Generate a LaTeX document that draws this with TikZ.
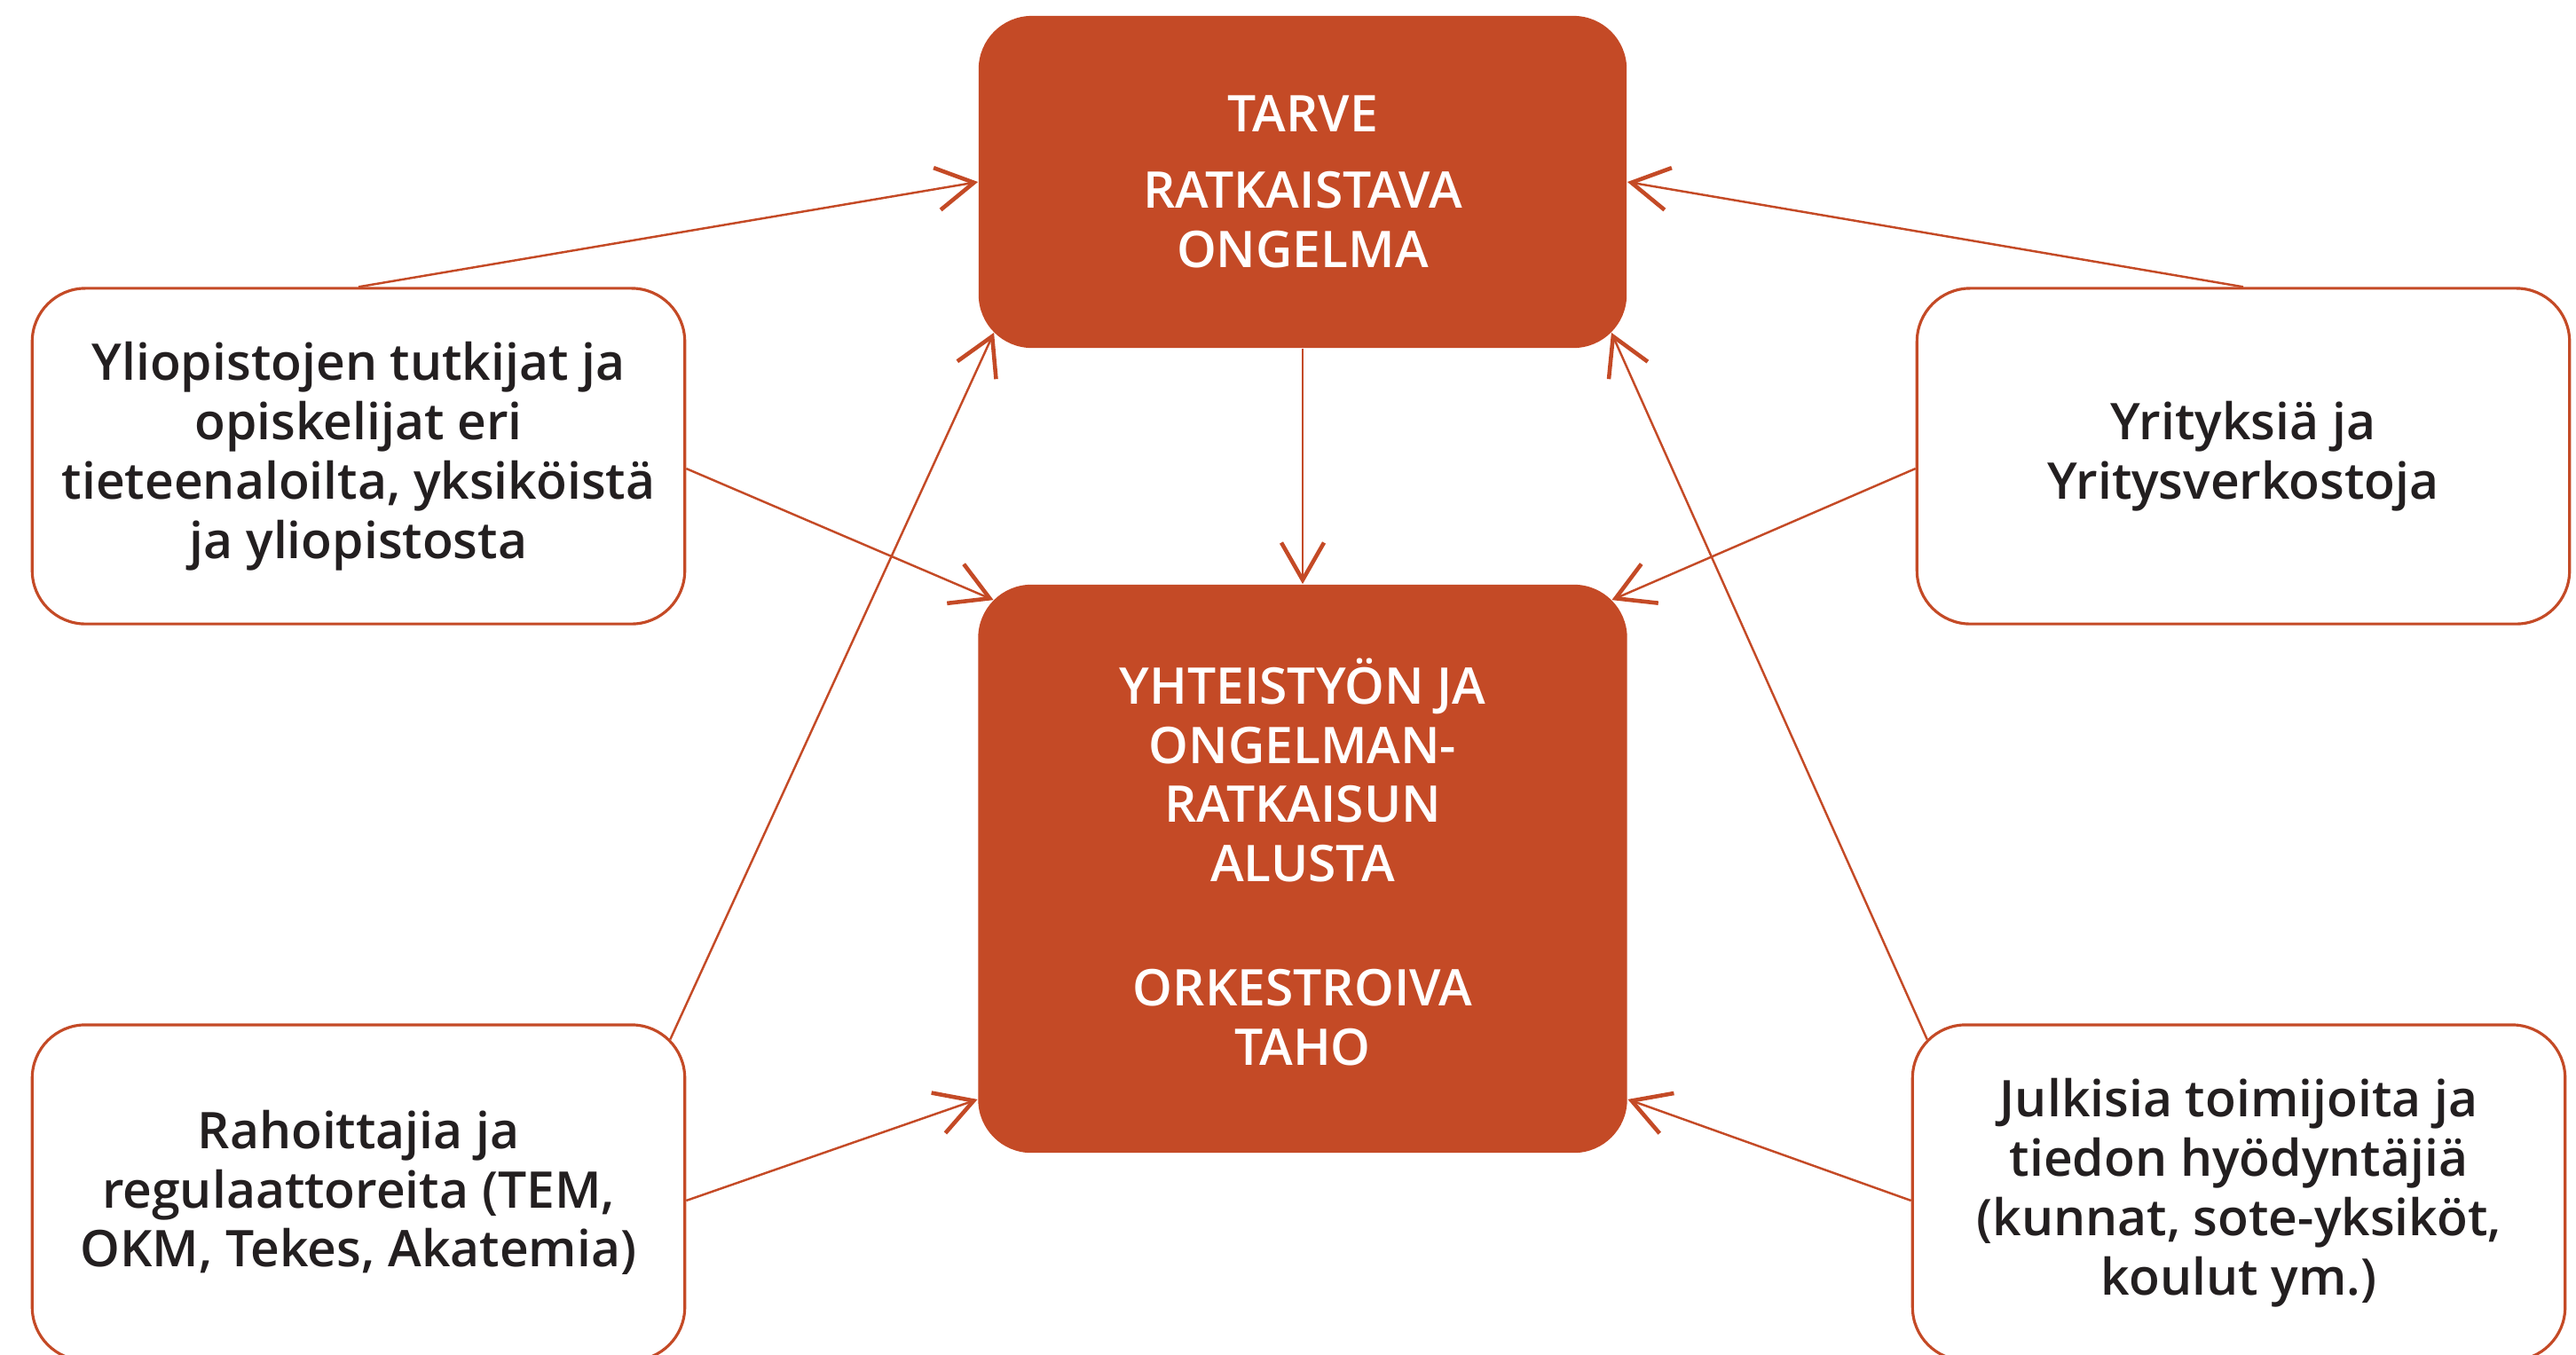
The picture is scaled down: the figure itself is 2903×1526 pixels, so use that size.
\documentclass[tikz,border=0pt]{standalone}
\usepackage{fontspec}
\setmainfont{Open Sans Semibold}
\usetikzlibrary{arrows.meta, calc}
\definecolor{rust}{RGB}{196,74,38}
\definecolor{ink}{RGB}{35,31,32}

\begin{document}
\begin{tikzpicture}[x=0.01cm, y=-0.01cm,
    hub/.style={rectangle, rounded corners=0.6cm, fill=rust, text=white, align=center, inner sep=0pt,
        font=\fontsize{16.2pt}{19pt}\selectfont},
    actor/.style={rectangle, rounded corners=0.6cm, draw=rust, line width=0.9pt, fill=white, text=ink,
        align=center, inner sep=0pt, minimum width=7.35cm, minimum height=3.78cm,
        font=\fontsize{16.2pt}{19pt}\selectfont},
    link/.style={rust, line width=0.7pt, -{Straight Barb[length=4.2mm, width=4.8mm, line width=1.3pt]}}]

\clip (0,0) rectangle (2903,1526);

% Need
\node[hub, minimum width=7.30cm, minimum height=3.74cm] (need) at (1468,205)
    {TARVE\\[0.19cm]RATKAISTAVA\\ONGELMA};

% Platform
\node[hub, minimum width=7.31cm, minimum height=6.40cm] (alusta) at (1468,979)
    {YHTEISTYÖN JA\\ONGELMAN-\\RATKAISUN\\ALUSTA\\[0.73cm]ORKESTROIVA\\TAHO\\[-0.51cm]\mbox{}};

% Actors
\node[actor] (yliop) at (404,514)
    {Yliopistojen tutkijat ja\\opiskelijat eri\\tieteenaloilta, yksiköistä\\ja yliopistosta};
\node[actor] (yritys) at (2528,514) {Yrityksiä ja\\Yritysverkostoja};
\node[actor] (rahoit) at (404,1344)
    {Rahoittajia ja\\regulaattoreita (TEM,\\OKM, Tekes, Akatemia)};
\node[actor] (julk) at (2523,1344)
    {Julkisia toimijoita ja\\tiedon hyödyntäjiä\\(kunnat, sote-yksiköt,\\koulut ym.)};

% Links into the need
\draw[link] (yliop.north) -- (need.west);
\draw[link] (yritys.north) -- (need.east);
\draw[link] ($(rahoit.north east)+(-18,18)$) -- ($(need.south west)+(18,-18)$);
\draw[link] ($(julk.north west)+(18,18)$) -- ($(need.south east)+(-18,-18)$);

% Links into the platform
\draw[link] (need.south) -- (alusta.north);
\draw[link] ($(yliop.east)+(0,14)$) -- ($(alusta.north west)+(18,18)$);
\draw[link] ($(yritys.west)+(0,14)$) -- ($(alusta.north east)+(-18,18)$);
\draw[link] ($(rahoit.east)+(0,9)$) -- ($(alusta.south west)+(0,-61)$);
\draw[link] ($(julk.west)+(0,9)$) -- ($(alusta.south east)+(0,-61)$);

\end{tikzpicture}
\end{document}
